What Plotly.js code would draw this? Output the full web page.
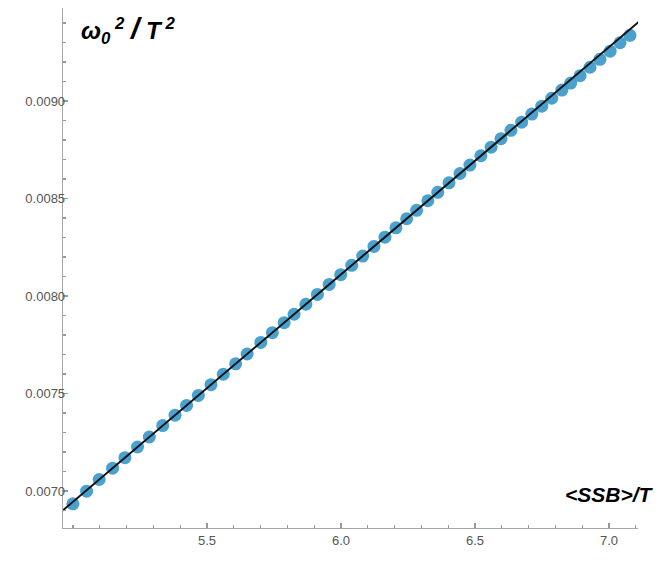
<!DOCTYPE html>
<html>
<head>
<meta charset="utf-8">
<script src="https://cdn.plot.ly/plotly-3.0.1.min.js"></script>
<style>html,body{margin:0;padding:0;background:#fff;}#chart{width:671px;height:565px;}</style>
</head>
<body>
<div id="chart"></div>
<script>
// <SSB>/T values of the data points
const ssbOverT = [5.000, 5.051, 5.098, 5.148, 5.194, 5.241, 5.285, 5.335, 5.381, 5.424,
  5.468, 5.515, 5.561, 5.607, 5.650, 5.701, 5.744, 5.788, 5.825, 5.869,
  5.912, 5.956, 5.999, 6.040, 6.081, 6.123, 6.164, 6.205, 6.245, 6.282,
  6.324, 6.361, 6.403, 6.444, 6.481, 6.522, 6.560, 6.597, 6.634, 6.674,
  6.712, 6.749, 6.786, 6.824, 6.857, 6.892, 6.929, 6.966, 7.004, 7.041, 7.078];
// omega_0^2 / T^2 values of the data points
const omega2OverT2 = [0.006934, 0.006999, 0.0070587, 0.007117, 0.0071707, 0.0072255, 0.0072768, 0.0073351, 0.0073887, 0.0074389,
  0.0074902, 0.007545, 0.0075986, 0.0076522, 0.0077024, 0.0077618, 0.007812, 0.0078633, 0.0079064, 0.0079577,
  0.0080079, 0.0080592, 0.0081093, 0.0081571, 0.0082049, 0.0082539, 0.0083017, 0.0083495, 0.0083961, 0.0084393,
  0.0084883, 0.0085314, 0.0085804, 0.0086282, 0.0086713, 0.0087191, 0.0087634, 0.0088066, 0.0088497, 0.0088913,
  0.008933, 0.0089735, 0.0090142, 0.0090559, 0.0090917, 0.00913, 0.0091732, 0.0092137, 0.0092555, 0.0092987, 0.0093366];
// linear fit line end points
const fitX = [4.955, 7.123];
const fitY = [0.006892, 0.009420];
// tick labels
const xTickVals = [5.5, 6.0, 6.5, 7.0];
const xTickText = ["5.5", "6.0", "6.5", "7.0"];
const yTickVals = [0.0070, 0.0075, 0.0080, 0.0085, 0.0090];
const yTickText = ["0.0070", "0.0075", "0.0080", "0.0085", "0.0090"];

const traces = [
  {x: ssbOverT, y: omega2OverT2, type: 'scatter', mode: 'markers',
   marker: {size: 13, color: '#3c9aca', opacity: 0.93}, cliponaxis: false},
  {x: fitX, y: fitY, type: 'scatter', mode: 'lines',
   line: {color: '#111', width: 2}, cliponaxis: false}
];

const tickFont = {family: 'Liberation Sans, Arial, sans-serif', size: 13, color: '#555'};
const layout = {
  width: 671, height: 565,
  margin: {l: 63, r: 33, t: 8, b: 37},
  paper_bgcolor: '#fff', plot_bgcolor: '#fff',
  showlegend: false,
  xaxis: {
    range: [4.963, 7.108], showgrid: false, zeroline: false,
    showline: true, linecolor: '#a8a8a8', linewidth: 1.3,
    tickvals: xTickVals, ticktext: xTickText, ticks: 'inside', ticklen: 5,
    tickcolor: '#999', tickwidth: 1.2, tickfont: tickFont,
    minor: {dtick: 0.1, tick0: 5.0, ticks: 'inside', ticklen: 3, tickcolor: '#999', tickwidth: 1.2, showgrid: false}
  },
  yaxis: {
    range: [0.00681, 0.009477], showgrid: false, zeroline: false,
    showline: true, linecolor: '#a8a8a8', linewidth: 1.3,
    tickvals: yTickVals, ticktext: yTickText, ticks: 'inside', ticklen: 5,
    tickcolor: '#999', tickwidth: 1.2, tickfont: tickFont, ticklabelstandoff: -6,
    minor: {dtick: 0.0001, tick0: 0.007, ticks: 'inside', ticklen: 3, tickcolor: '#999', tickwidth: 1.2, showgrid: false}
  },
  annotations: [
    {xref: 'paper', yref: 'paper', x: 0.027, y: 0.958, xanchor: 'left', yanchor: 'middle', showarrow: false,
     text: '<b><i>ω<sub>0</sub><sup> 2</sup> <span style="font-size:30px">/</span> T<sup> 2</sup></i></b>',
     font: {family: 'Liberation Sans, Arial, sans-serif', size: 24, color: '#000'}},
    {xref: 'paper', yref: 'paper', x: 1.032, y: 0.0635, xanchor: 'right', yanchor: 'middle', showarrow: false,
     text: '<b><i>&lt;SSB&gt;/T</i></b>',
     font: {family: 'Liberation Sans, Arial, sans-serif', size: 21, color: '#000'}}
  ]
};
Plotly.newPlot('chart', traces, layout, {displayModeBar: false, staticPlot: true});
</script>
</body>
</html>
